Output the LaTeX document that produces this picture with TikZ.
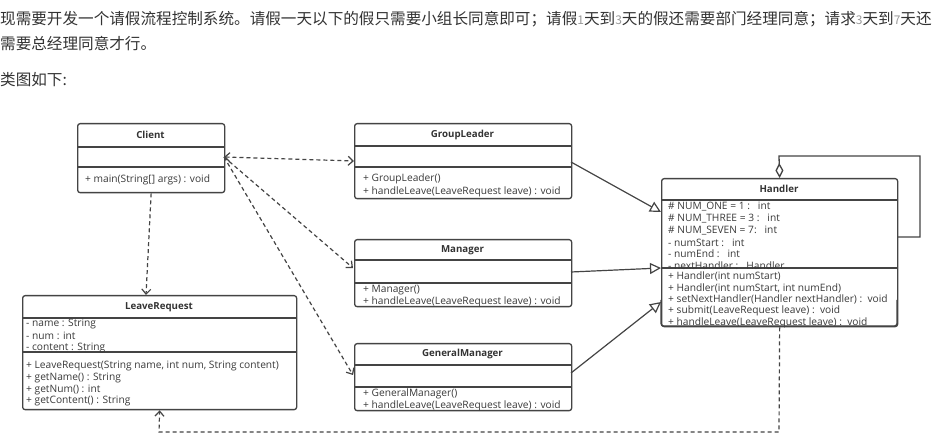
\documentclass[tikz,border=0pt]{standalone}
\usepackage{fontspec}
\usetikzlibrary{arrows.meta}
\newfontfamily\cjk{Noto Sans CJK SC}
\newfontfamily\umlfont{Open Sans}
\definecolor{linec}{HTML}{444444}
\definecolor{txt}{HTML}{333333}
\definecolor{memtxt}{HTML}{3A3A3A}
\definecolor{digit}{HTML}{9A9A9A}
\newcommand{\dg}[1]{{\color{digit}\fontsize{12}{14}\selectfont #1}}
\begin{document}
\begin{tikzpicture}[x=1pt,y=-1pt,
  umlbox/.style={draw=linec, line width=1.3pt, rounded corners=2.5pt, anchor=north west, inner sep=0pt, fill=white},
  sepline/.style={draw=linec, line width=1.3pt},
  title/.style={font=\umlfont\bfseries\fontsize{9.7}{10}\selectfont, text=txt, inner sep=0pt},
  member/.style={font=\umlfont\fontsize{10.2}{10}\selectfont, text=memtxt, anchor=west, inner sep=0pt},
  para/.style={font=\cjk\fontsize{15.6}{18}\selectfont, text=txt, anchor=west, inner sep=0pt},
  depend/.style={draw=linec, line width=1.2pt, dash pattern=on 4pt off 3pt, -{Straight Barb[length=5pt,width=9pt]}},
  general/.style={draw=linec, line width=1.2pt, -{Triangle[open,length=11pt,width=11pt,fill=white]}},
  aggreg/.style={draw=linec, line width=1.3pt, {Diamond[open,length=15pt,width=8pt,fill=white]}-}
]
\useasboundingbox[fill=white] (0,0) rectangle (940,435);

% description text
\node[para] (line1) at (0,19) {现需要开发一个请假流程控制系统。请假一天以下的假只需要小组长同意即可；请假\dg{1}天到\dg{3}天的假还需要部门经理同意；请求\dg{3}天到\dg{7}天还};
\node[para] (line2) at (0,44) {需要总经理同意才行。};
\node[para] (line3) at (0,80) {类图如下:};

% ---- Client ----
\node[umlbox, minimum width=147, minimum height=69] (client) at (77,123) {};
\draw[sepline] (77,147) -- (224,147);
\draw[sepline] (77,167) -- (224,167);
\node[title] (clientT) at (150.5,135) {Client};
\node[member] (clientM1) at (85,180) {+ main(String[] args) : void};

% ---- LeaveRequest ----
\node[umlbox, minimum width=274, minimum height=114] (leave) at (22,295) {};
\draw[sepline] (22,318) -- (296,318);
\draw[sepline] (22,352) -- (296,352);
\node[title] (leaveT) at (159,307) {LeaveRequest};
\node[member] (leaveA1) at (26,324) {- name : String};
\node[member] (leaveA2) at (26,336) {- num : int};
\node[member] (leaveA3) at (26,348) {- content : String};
\node[member] (leaveM1) at (26,366) {+ LeaveRequest(String name, int num, String content)};
\node[member] (leaveM2) at (26,378) {+ getName() : String};
\node[member] (leaveM3) at (26,390) {+ getNum() : int};
\node[member] (leaveM4) at (26,401) {+ getContent() : String};

% ---- GroupLeader ----
\node[umlbox, minimum width=217, minimum height=75] (group) at (354,123) {};
\draw[sepline] (354,146) -- (571,146);
\draw[sepline] (354,167) -- (571,167);
\node[title] (groupT) at (462.5,135) {GroupLeader};
\node[member] (groupM1) at (363,179) {+ GroupLeader()};
\node[member] (groupM2) at (363,192) {+ handleLeave(LeaveRequest leave) : void};

% ---- Manager ----
\node[umlbox, minimum width=217, minimum height=67] (manager) at (354,239) {};
\draw[sepline] (354,260) -- (571,260);
\draw[sepline] (354,283) -- (571,283);
\node[title] (managerT) at (462.5,250) {Manager};
\node[member] (managerM1) at (363,290) {+ Manager()};
\node[member] (managerM2) at (363,302) {+ handleLeave(LeaveRequest leave) : void};

% ---- GeneralManager ----
\node[umlbox, minimum width=217, minimum height=67] (general) at (354,343) {};
\draw[sepline] (354,365) -- (571,365);
\draw[sepline] (354,387) -- (571,387);
\node[title] (generalT) at (462.5,354) {GeneralManager};
\node[member] (generalM1) at (363,394) {+ GeneralManager()};
\node[member] (generalM2) at (363,406) {+ handleLeave(LeaveRequest leave) : void};

% ---- Handler ----
\node[umlbox, minimum width=236, minimum height=148] (handler) at (661,178) {};
\draw[sepline] (661,200) -- (897,200);
\draw[sepline] (661,268) -- (897,268);
\node[title] (handlerT) at (779,189) {Handler};
\node[member] (handlerA1) at (668,207) {\# NUM\_ONE = 1 :\ \ \ int};
\node[member] (handlerA2) at (668,219) {\# NUM\_THREE = 3 :\ \ \ int};
\node[member] (handlerA3) at (668,231) {\# NUM\_SEVEN = 7:\ \ \ int};
\node[member] (handlerA4) at (668,243) {- numStart :\ \ \ int};
\node[member] (handlerA5) at (668,254) {- numEnd :\ \ \ int};
\node[member] (handlerA6) at (668,266) {- nextHandler :\ \ \ Handler};
\node[member] (handlerM1) at (668,276) {+ Handler(int numStart)};
\node[member] (handlerM2) at (668,288) {+ Handler(int numStart, int numEnd)};
\node[member] (handlerM3) at (668,299) {+ setNextHandler(Handler nextHandler) :\ \ void};
\node[member] (handlerM4) at (668,311) {+ submit(LeaveRequest leave) :\ \ void};
\node[member] (handlerM5) at (668,323) {+ handleLeave(LeaveRequest leave) :\ \ void};
% redraw the bottom edge over the clipped last line
\draw[sepline, rounded corners=2.5pt] (661,300) -- (661,326) -- (897,326) -- (897,300);

% ---- connector end points ----
\coordinate (cOut) at (224,157);
\coordinate (gIn) at (354,161);
\coordinate (mIn) at (353,268);
\coordinate (gmIn) at (353,375);
\coordinate (lrTop) at (146,295);
\coordinate (glOut) at (571,162);
\coordinate (hIn1) at (661,212);
\coordinate (mOut) at (571,272);
\coordinate (hIn2) at (661,268);
\coordinate (gmOut) at (571,373);
\coordinate (hIn3) at (661,302);
\coordinate (loopA) at (779,156);
\coordinate (loopB) at (920,156);
\coordinate (loopC) at (920,237);
\coordinate (loopD) at (897,237);
\coordinate (downA) at (779,432);
\coordinate (downB) at (159,432);

% dependencies of Client
\draw[depend, {Straight Barb[length=5pt,width=9pt]}-{Straight Barb[length=5pt,width=9pt]}] (cOut) -- (gIn);
\draw[depend] (cOut) -- (mIn);
\draw[depend] (cOut) -- (gmIn);
\draw[depend] (client.south) -- (lrTop);

% generalizations
\draw[general] (glOut) -- (hIn1);
\draw[general] (mOut) -- (hIn2);
\draw[general] (gmOut) -- (hIn3);

% successor link of Handler
\draw[aggreg] (handler.north) -- (loopA) -- (loopB) -- (loopC) -- (loopD);

% Handler uses LeaveRequest
\draw[depend] (handler.south) -- (downA) -- (downB) -- (leave.south);
\end{tikzpicture}
\end{document}
